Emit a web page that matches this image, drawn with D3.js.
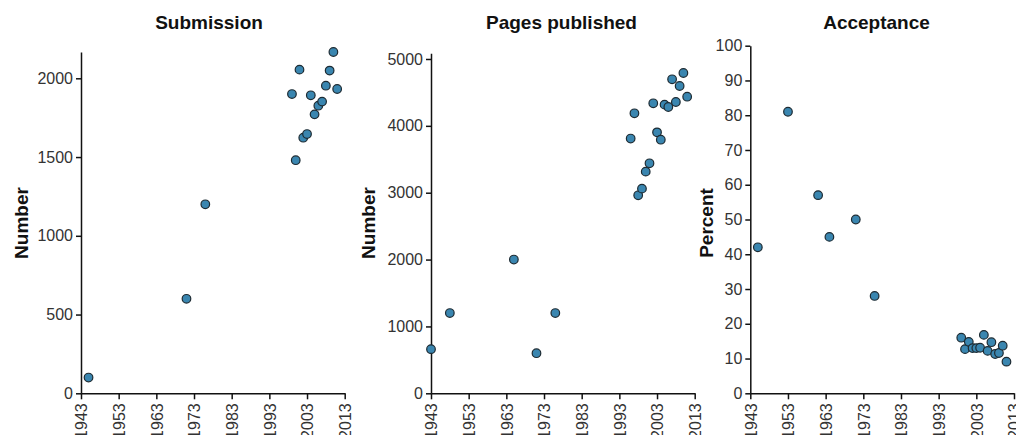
<!DOCTYPE html>
<html>
<head>
<meta charset="utf-8">
<script src="https://cdn.jsdelivr.net/npm/d3@7"></script>
<style>
  html, body { margin: 0; padding: 0; background: #fff; }
  svg { display: block; font-family: "Liberation Sans", Arial, Helvetica, sans-serif; }
  .axis path, .axis line { stroke: #111; stroke-width: 1.5; }
</style>
</head>
<body>
<svg id="chart" width="1016" height="435"></svg>
<script>
// ---- data ----
const xTickYears = [1943, 1953, 1963, 1973, 1983, 1993, 2003, 2013];

const submissionYears  = [1945, 1971, 1976, 1999, 2000, 2001, 2002, 2003, 2004, 2005, 2006, 2007, 2008, 2009, 2010, 2011];
const submissionValues = [100, 600, 1200, 1900, 1480, 2055, 1623, 1646, 1892, 1771, 1826, 1852, 1953, 2049, 2167, 1932];
const submissionTicks  = [0, 500, 1000, 1500, 2000];

const pagesYears  = [1943, 1948, 1965, 1971, 1976, 1996, 1997, 1998, 1999, 2000, 2001, 2002, 2003, 2004, 2005, 2006, 2007, 2008, 2009, 2010, 2011];
const pagesValues = [660, 1200, 2000, 600, 1200, 3810, 4188, 2961, 3061, 3315, 3440, 4337, 3903, 3793, 4317, 4282, 4696, 4357, 4596, 4790, 4436];
const pagesTicks  = [0, 1000, 2000, 3000, 4000, 5000];

const acceptanceYears  = [1945, 1953, 1961, 1964, 1971, 1976, 1999, 2000, 2001, 2002, 2003, 2004, 2005, 2006, 2007, 2008, 2009, 2010, 2011];
const acceptanceValues = [42, 81, 57, 45, 50, 28, 16, 12.7, 14.8, 13.0, 13.0, 13.1, 16.8, 12.2, 14.7, 11.3, 11.6, 13.7, 9.1];
const acceptanceTicks  = [0, 10, 20, 30, 40, 50, 60, 70, 80, 90, 100];

const panels = [
  { title: "Submission",      ylabel: "Number",  years: submissionYears, values: submissionValues, ticks: submissionTicks, yMax: 2167,
    x0: 81,    titleX: 209,   labelX: 27.5 },
  { title: "Pages published", ylabel: "Number",  years: pagesYears,      values: pagesValues,      ticks: pagesTicks,      yMax: 5085,
    x0: 431,   titleX: 561.5, labelX: 374.5 },
  { title: "Acceptance",      ylabel: "Percent", years: acceptanceYears, values: acceptanceValues, ticks: acceptanceTicks, yMax: 100,
    x0: 750.3, titleX: 876.5, labelX: 713.3 }
];

const svg = d3.select("#chart");
const yBottom = 393.3;
const xSpan = 263.7;   // pixels for 70 years
const tickFont = "Liberation Sans, Arial, Helvetica, sans-serif";

function styleTicks(sel) {
  sel.attr("font-family", tickFont).attr("font-size", 16);
  sel.selectAll("text").style("font-family", tickFont).style("font-size", "16px").style("fill", "#333");
}

panels.forEach((p, i) => {
  const yTopPx = i === 0 ? 52 : (i === 1 ? 53.3 : 45.7);
  const x = d3.scaleLinear().domain([1943, 2013]).range([p.x0, p.x0 + xSpan]);
  const y = d3.scaleLinear().domain([0, p.yMax]).range([yBottom, yTopPx]);
  const g = svg.append("g");

  // x axis
  const xa = g.append("g").attr("class", "axis")
    .attr("transform", `translate(0,${yBottom})`)
    .call(d3.axisBottom(x).tickValues(xTickYears).tickFormat(d3.format("d")).tickSize(6).tickSizeOuter(0));
  xa.selectAll("text")
    .attr("text-anchor", "end")
    .attr("transform", "rotate(-90)")
    .attr("x", -10)
    .attr("y", 0)
    .attr("dy", "0.36em");
  styleTicks(xa);

  // y axis
  const ya = g.append("g").attr("class", "axis")
    .attr("transform", `translate(${p.x0},0)`)
    .call(d3.axisLeft(y).tickValues(p.ticks).tickFormat(d3.format("d")).tickSize(5).tickPadding(3).tickSizeOuter(0));
  styleTicks(ya);

  // points
  g.append("g").selectAll("circle")
    .data(p.years.map((yr, k) => ({ yr, v: p.values[k] })))
    .join("circle")
    .attr("cx", d => x(d.yr))
    .attr("cy", d => y(d.v))
    .attr("r", 4.3)
    .attr("fill", "#3a86b0")
    .attr("stroke", "#1d2b33")
    .attr("stroke-width", 1.2);

  // title
  g.append("text")
    .attr("x", p.titleX).attr("y", 28.5)
    .attr("text-anchor", "middle")
    .attr("font-weight", "bold")
    .attr("font-size", "19px")
    .attr("fill", "#111")
    .text(p.title);

  // y label
  g.append("text")
    .attr("transform", `translate(${p.labelX},223) rotate(-90)`)
    .attr("text-anchor", "middle")
    .attr("font-weight", "bold")
    .attr("font-size", "19px")
    .attr("fill", "#111")
    .text(p.ylabel);
});
</script>
</body>
</html>
